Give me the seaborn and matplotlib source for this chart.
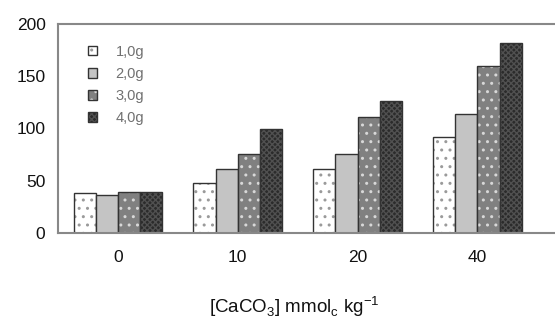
import pandas as pd
import matplotlib.pyplot as plt
import seaborn as sns
from matplotlib.colors import to_rgba

# data
conc = ["0", "10", "20", "40"]
doses = ["1,0g", "2,0g", "3,0g", "4,0g"]
v1 = [38, 48, 61, 92]
v2 = [36, 61, 76, 114]
v3 = [39, 76, 111, 160]
v4 = [39, 100, 126, 182]

fills = ["#ffffff", "#c4c4c4", "#808080", "#2b2b2b"]
hatches = ["..", "", "..", "xxxxxx"]
hatch_cols = ["#9a9a9a", "#c4c4c4", "#d8d8d8", "#505050"]

rows = []
for d, vals in zip(doses, [v1, v2, v3, v4]):
    for c, v in zip(conc, vals):
        rows.append({"conc": c, "dose": d, "value": v})
df = pd.DataFrame(rows)

sns.set_style("white")
plt.rcParams["font.family"] = ["Liberation Sans", "DejaVu Sans"]
plt.rcParams["mathtext.fontset"] = "custom"
plt.rcParams["mathtext.rm"] = "Liberation Sans"
plt.rcParams["hatch.linewidth"] = 1.0

fig = plt.figure(figsize=(5.55, 3.21), dpi=100)
ax = fig.add_axes([58 / 555, 1 - 233 / 321, 1 - 58 / 555 + 0.02, 209 / 321])

sns.barplot(data=df, x="conc", y="value", hue="dose", order=conc, hue_order=doses,
            palette=fills, width=0.74, edgecolor="#333333", linewidth=1.0,
            legend=False, ax=ax)

for cont, h, hc in zip(ax.containers, hatches, hatch_cols):
    for p in cont.patches:
        p.set_hatch(h)
        p._hatch_color = to_rgba(hc)
        p.stale = True

ax.set_ylim(0, 200)
ax.set_xlim(-0.5, 3.74)
ax.set_yticks([0, 50, 100, 150, 200])
ax.set_xticks([0, 1, 2, 3])
ax.set_xticks([0.5, 1.5, 2.5, 3.5], minor=True)
ax.tick_params(axis="x", which="major", length=0, pad=12, labelsize=12.5)
ax.tick_params(axis="x", which="minor", length=5, width=1.2, color="#666666", direction="out")
ax.tick_params(axis="y", length=5, width=1.2, color="#666666", direction="out", labelsize=12.5, pad=4)
for lab in ax.get_xticklabels() + ax.get_yticklabels():
    lab.set_color("#111111")
ax.set_xlabel("")
ax.set_ylabel("")

for s in ["left", "top", "bottom"]:
    ax.spines[s].set_color("#888888")
    ax.spines[s].set_linewidth(1.5)
ax.spines["right"].set_visible(False)

handles = [cont.patches[0] for cont in ax.containers]
leg = ax.legend(handles, doses, loc="upper left", bbox_to_anchor=(88 / 555, 1 - 45 / 321),
                bbox_transform=fig.transFigure, frameon=False, fontsize=10.5,
                handlelength=0.6, handleheight=0.6, handletextpad=1.3,
                labelspacing=0.55, borderpad=0, borderaxespad=0)
for t in leg.get_texts():
    t.set_color("#707070")

fig.text(294 / 555, 1 - 307 / 321, r"[CaCO$_\mathrm{3}$] mmol$_\mathrm{c}$ kg$^\mathrm{-1}$",
         ha="center", va="center", fontsize=13.5, color="#111111")

fig.savefig("out.png", dpi=100)
